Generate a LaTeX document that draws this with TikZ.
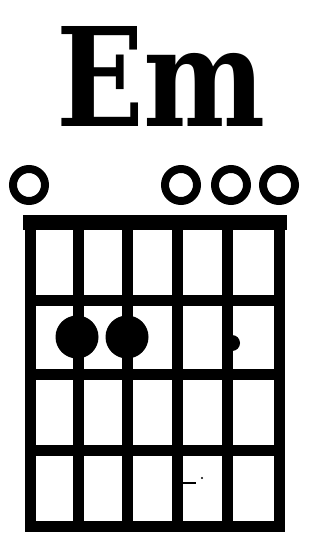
\documentclass[tikz,border=0pt]{standalone}
\usepackage{fontspec}
\newfontfamily\titlefont{DejaVu Serif}
\begin{document}
\begin{tikzpicture}[x=1pt,y=-1pt,
  gridline/.style={line width=11pt,line cap=rect},
  nutline/.style={line width=15pt,line cap=rect},
  openstr/.style={circle,draw,line width=8pt,minimum size=32pt,inner sep=0pt},
  fingerdot/.style={circle,fill,minimum size=43pt,inner sep=0pt},
  smalldot/.style={circle,fill,minimum size=16pt,inner sep=0pt}]
\useasboundingbox (0,0) rectangle (320,540);
% title
\node[anchor=base,inner sep=0pt] (title) at (161,127)
  {\resizebox{210pt}{100pt}{\titlefont\bfseries Em}};
% open strings
\node[openstr] (o1) at (29,185) {};
\node[openstr] (o4) at (181,185) {};
\node[openstr] (o5) at (231,185) {};
\node[openstr] (o6) at (279,185) {};
% strings
\foreach \x in {30,78,127,177,227,279}
  \draw[gridline] (\x,222) -- (\x,526);
% frets
\draw[nutline] (30,222) -- (279,222);
\foreach \y in {300,374,450,526}
  \draw[gridline] (30,\y) -- (279,\y);
% finger dots
\node[fingerdot] (d2) at (77,337) {};
\node[fingerdot] (d3) at (127,337) {};
\node[smalldot] (d5) at (232,343) {};
% small marks
\draw[line width=2pt] (182,483) -- (196,483);
\fill (202,478) circle (1.2pt);
\end{tikzpicture}
\end{document}
